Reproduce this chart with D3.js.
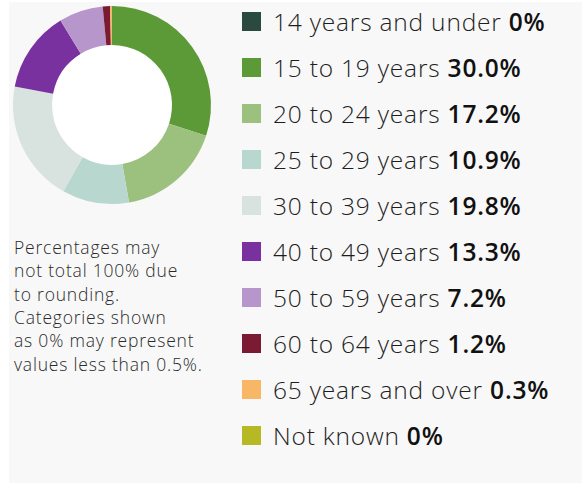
<!DOCTYPE html>
<html>
<head>
<meta charset="utf-8">
<script src="https://cdn.jsdelivr.net/npm/d3@7"></script>
<style>
  body { margin: 0; background: #ffffff; }
  text { font-family: "Open Sans", Lato, sans-serif; }
</style>
</head>
<body>
<svg class="chart"></svg>
<script>
"use strict";

var width  = 587,
    height = 486;

// Data
var categories = ["14 years and under", "15 to 19 years", "20 to 24 years", "25 to 29 years",
                  "30 to 39 years", "40 to 49 years", "50 to 59 years", "60 to 64 years",
                  "65 years and over", "Not known"];
var shares     = [0, 30.0, 17.2, 10.9, 19.8, 13.3, 7.2, 1.2, 0.3, 0];
var shareLabels = ["0%", "30.0%", "17.2%", "10.9%", "19.8%", "13.3%", "7.2%", "1.2%", "0.3%", "0%"];
var colours    = ["#2b4a3f", "#5b9a36", "#9cc07d", "#b7d7cf", "#d8e3e0",
                  "#7a31a0", "#b797cb", "#7b1a33", "#f7b767", "#b6b824"];
var noteLines  = ["Percentages may", "not total 100% due", "to rounding.",
                  "Categories shown", "as 0% may represent", "values less than 0.5%."];

var chart = d3.select(".chart")
              .attr("width", width)
              .attr("height", height);

// grey panel
chart.append("rect")
     .attr("x", 9).attr("y", 2)
     .attr("width", 573).attr("height", 481)
     .style("fill", "#f8f8f8");

var items = categories.map(function(c, i) {
    return {name: c, value: shares[i], label: shareLabels[i], colour: colours[i]};
});

// Donut
var pie = d3.pie()
            .sort(null)
            .value(function(d) { return d.value; });

var arc = d3.arc()
            .innerRadius(60)
            .outerRadius(99);

var donut = chart.append("g")
                 .attr("transform", "translate(112, 105)");

donut.append("circle")
     .attr("r", 60)
     .style("fill", "#ffffff");

donut.selectAll("path")
     .data(pie(items))
     .enter()
     .append("path")
        .attr("d", arc)
        .style("fill", function(d) { return d.data.colour; });

// Legend
var rowScale = d3.scaleBand()
                 .domain(categories)
                 .range([-1, 459])
                 .padding(0);

var legend = chart.append("g")
                  .attr("class", "legend")
                  .attr("transform", "translate(242, 0)");

var rows = legend.selectAll("g")
                 .data(items)
                 .enter()
                 .append("g")
                    .attr("transform", function(d) { return "translate(0, " + rowScale(d.name) + ")"; });

rows.append("rect")
    .attr("x", 0)
    .attr("y", 13)
    .attr("width", 19)
    .attr("height", 19)
    .style("fill", function(d) { return d.colour; });

var labels = rows.append("text")
    .attr("x", 31)
    .attr("y", 32)
    .style("font-size", "24.5px")
    .style("font-weight", 300)
    .style("letter-spacing", "0.8px")
    .style("fill", "#1e1e1e");

labels.append("tspan")
      .text(function(d) { return d.name + " "; });

labels.append("tspan")
      .style("font-weight", 600)
      .style("fill", "#111")
      .text(function(d) { return d.label; });

// Note under the donut
chart.append("text")
     .attr("x", 14)
     .attr("y", 254)
     .style("font-size", "17.5px")
     .style("font-weight", 300)
     .style("letter-spacing", "0.8px")
     .style("fill", "#2a2a2a")
     .selectAll("tspan")
     .data(noteLines)
     .enter()
     .append("tspan")
        .attr("x", 14)
        .attr("dy", function(d, i) { return i === 0 ? 0 : 23.3; })
        .text(function(d) { return d; });
</script>
</body>
</html>
